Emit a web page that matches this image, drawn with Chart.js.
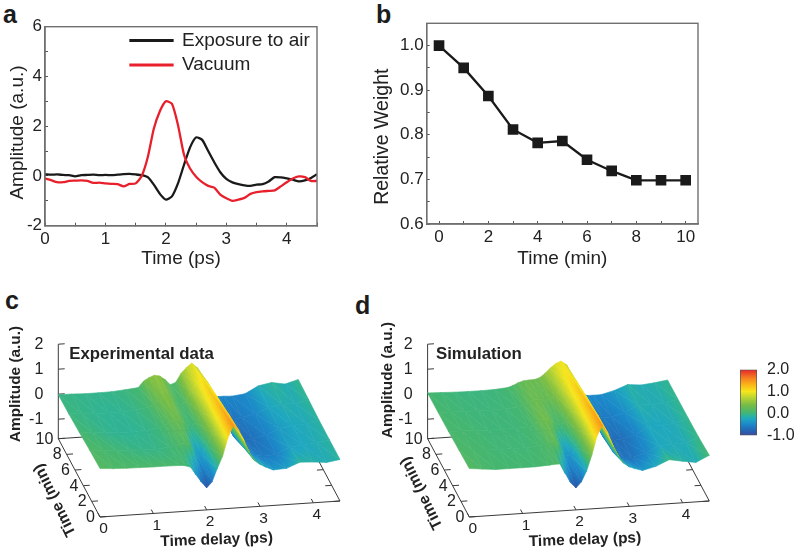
<!DOCTYPE html>
<html>
<head>
<meta charset="utf-8">
<title>Amplitude and weight</title>
<script src="https://cdn.jsdelivr.net/npm/chart.js@4"></script>
<style>
  body { margin: 0; background: #fff; width: 797px; height: 553px; overflow: hidden; position: relative; font-family: "Liberation Sans", sans-serif; }
  canvas { position: absolute; }
  .letter { position: absolute; font-weight: bold; font-size: 25px; line-height: 25px; color: #1c1c1c; }
</style>
</head>
<body>
<div class="letter" style="left:3px;top:2px">a</div>
<div class="letter" style="left:376px;top:2px">b</div>
<div class="letter" style="left:5px;top:288px">c</div>
<div class="letter" style="left:355px;top:293px">d</div>
<canvas id="panelA" width="350" height="270" style="left:0;top:0"></canvas>
<canvas id="panelB" width="350" height="270" style="left:360px;top:0"></canvas>
<canvas id="panelC" width="350" height="263" style="left:0;top:290px"></canvas>
<canvas id="panelD" width="375" height="263" style="left:350px;top:290px"></canvas>
<canvas id="colorBar" width="72" height="105" style="left:725px;top:350px"></canvas>
<script>
// panel a
const aTimes = [0,0.1,0.2,0.3,0.4,0.5,0.6,0.7,0.8,0.9,1,1.1,1.2,1.3,1.4,1.5,1.6,1.7,1.8,1.9,2,2.1,2.2,2.3,2.4,2.5,2.6,2.7,2.8,2.9,3,3.1,3.2,3.3,3.4,3.5,3.6,3.7,3.8,3.9,4,4.1,4.2,4.3,4.4,4.5];
const airValues = [0.07,0.05,0.06,0.04,0.03,-0.02,0.03,0.04,0.05,0.03,0.04,0.03,0.05,0.07,0.08,0.06,0.03,-0.05,-0.35,-0.72,-0.95,-0.82,-0.3,0.45,1.15,1.55,1.45,1.0,0.55,0.15,-0.12,-0.26,-0.33,-0.38,-0.4,-0.35,-0.33,-0.22,-0.05,-0.06,-0.1,-0.15,-0.22,-0.18,-0.08,0.07];
const vacuumValues = [-0.1,-0.17,-0.25,-0.25,-0.2,-0.19,-0.18,-0.2,-0.28,-0.27,-0.3,-0.32,-0.33,-0.42,-0.32,-0.3,0,0.75,1.9,2.6,3.0,2.9,2.05,0.85,0.3,-0.03,-0.25,-0.4,-0.47,-0.75,-0.9,-1.0,-0.95,-0.88,-0.72,-0.65,-0.62,-0.6,-0.58,-0.42,-0.25,-0.1,-0.02,-0.05,-0.2,-0.2];
const aXTicks = [0,0.5,1,1.5,2,2.5,3,3.5,4,4.5];
const aXLabels = [0,1,2,3,4];
const aYTicks = [-2,-1,0,1,2,3,4,5,6];
const aYLabels = [-2,0,2,4,6];

// panel b
const bMinutes = [0,1,2,3,4,5,6,7,8,9,10];
const bWeights = [1.0,0.95,0.887,0.812,0.782,0.786,0.744,0.719,0.698,0.698,0.698];
const bXTicks = [0,1,2,3,4,5,6,7,8,9,10];
const bXLabels = [0,2,4,6,8,10];
const bYTicks = [0.6,0.65,0.7,0.75,0.8,0.85,0.9,0.95,1.0];
const bYLabels = [0.6,0.7,0.8,0.9,1.0];

// panels c and d, amplitude per row of time (min) and column of delay (ps)
const surfaceDelays = [0,0.25,0.5,0.75,1,1.25,1.5,1.6,1.7,1.8,1.9,2,2.1,2.2,2.3,2.4,2.5,2.6,2.7,2.8,2.9,3,3.1,3.25,3.5,3.75,4,4.25,4.5];
const surfaceTimes = [0,2.5,5,7.5,10];
const expRow0 = [0.16,0.12,0.1,0.09,0.08,0.08,0.07,0.04,-0.03,-0.35,-0.65,-0.9,-0.68,-0.15,0.33,1.05,1.52,1.32,0.9,0.42,0.06,-0.1,-0.22,-0.36,-0.33,-0.12,-0.15,-0.2,-0.12];
const expRow1 = [0.12,0.07,0.03,0,-0.03,-0.03,0.02,0.06,0.12,0.15,0.05,-0.32,-0.35,-0.05,0.45,1.0,1.36,1.2,0.72,0.2,-0.22,-0.45,-0.52,-0.6,-0.55,-0.3,-0.25,-0.2,-0.12];
const expRow2 = [0.05,0,-0.05,-0.08,-0.08,-0.05,0.02,0.1,0.2,0.3,0.28,0.1,0,0.12,0.5,0.95,1.2,1.05,0.5,-0.1,-0.55,-0.72,-0.72,-0.68,-0.55,-0.35,-0.25,-0.22,-0.12];
const expRow3 = [0,-0.03,-0.06,-0.08,-0.07,-0.03,0.05,0.18,0.32,0.42,0.38,0.18,0.05,0.2,0.6,0.9,1.05,0.9,0.4,-0.15,-0.5,-0.65,-0.65,-0.6,-0.5,-0.28,-0.18,-0.2,-0.08];
const expRow4 = [-0.02,-0.03,-0.05,-0.05,-0.04,0,0.05,0.3,0.42,0.5,0.46,0.3,0.08,0.16,0.5,0.72,0.89,0.7,0.3,-0.2,-0.5,-0.52,-0.52,-0.54,-0.48,-0.2,-0.1,-0.2,-0.05];
const simRow0 = [0.16,0.1,0.05,0.05,0.05,0.05,0.08,0.1,0.1,-0.3,-0.68,-0.9,-0.68,-0.25,0.38,1.15,1.52,1.2,0.66,0.25,-0.05,-0.2,-0.28,-0.38,-0.25,-0.02,-0.12,-0.2,0.05];
const simRow1 = [0.12,0.08,0.05,0.03,0.03,0.03,0.06,0.1,0.2,0.25,0,-0.4,-0.4,-0.1,0.45,1.05,1.38,1.15,0.6,0.05,-0.4,-0.6,-0.65,-0.65,-0.5,-0.25,-0.22,-0.2,-0.02];
const simRow2 = [0.08,0.06,0.04,0.02,0.02,0.02,0.05,0.1,0.25,0.35,0.3,0.12,0.05,0.2,0.6,1.0,1.22,1.05,0.5,-0.1,-0.55,-0.7,-0.72,-0.7,-0.55,-0.25,-0.25,-0.2,-0.05];
const simRow3 = [0.06,0.04,0.02,0.01,0.01,0.02,0.05,0.12,0.22,0.3,0.3,0.25,0.28,0.4,0.7,0.98,1.08,0.92,0.4,-0.18,-0.52,-0.6,-0.6,-0.58,-0.45,-0.18,-0.2,-0.18,-0.06];
const simRow4 = [0.05,0.03,0.01,0,0,0.01,0.05,0.12,0.22,0.28,0.3,0.3,0.36,0.52,0.72,0.88,0.97,0.82,0.4,-0.1,-0.42,-0.48,-0.48,-0.48,-0.35,-0.15,-0.2,-0.15,-0.07];
const delayTicks = [0,1,2,3,4];
const timeTicks = [0,2,4,6,8,10];
const ampTicks = [-1,0,1,2];

// colour bar
const barRange = [-1,2];
const barTicks = [-1,0,1,2];

const TEXT = '#222';
const AXIS = '#707070';
const FONT = '"Liberation Sans", sans-serif';

// jet-like map
const colorStops = [
  [-1, [59,74,158]], [-0.75, [35,104,181]], [-0.5, [27,135,201]], [-0.25, [31,167,192]],
  [-0.1, [44,179,154]], [0.05, [69,182,112]], [0.4, [121,189,69]], [0.7, [180,210,52]],
  [1, [246,230,28]], [1.3, [251,183,23]], [1.6, [245,130,32]], [2, [229,38,43]]
];
function ampColor(z) {
  if (z <= colorStops[0][0]) return 'rgb(' + colorStops[0][1] + ')';
  for (let i = 1; i < colorStops.length; i++) {
    if (z <= colorStops[i][0]) {
      const [z0, c0] = colorStops[i - 1];
      const [z1, c1] = colorStops[i];
      const f = (z - z0) / (z1 - z0);
      return 'rgb(' + c0.map((c, k) => Math.round(c + (c1[k] - c) * f)) + ')';
    }
  }
  return 'rgb(' + colorStops[colorStops.length - 1][1] + ')';
}

// inward ticks and a fixed plot box for the two flat panels
function flatAxis(title, ticks, labels, size) {
  return {
    type: 'linear',
    title: { display: !!title, text: title, color: TEXT, font: { family: FONT, size: 19 }, padding: { top: 0, bottom: 0 } },
    border: { color: AXIS, width: 1.4 },
    grid: { drawOnChartArea: false, tickLength: -3, tickColor: '#555', tickWidth: 1 },
    ticks: {
      color: TEXT, font: { family: FONT, size: 17 }, padding: 6, autoSkip: false, maxRotation: 0,
      callback: v => labels.includes(v) ? (labels[0] === 0.6 ? v.toFixed(1) : String(v)) : ''
    },
    afterBuildTicks: scale => { scale.ticks = ticks.map(value => ({ value })); },
    afterFit: scale => { if (scale.isHorizontal()) scale.height = size; else scale.width = size; }
  };
}

const framePlugin = {
  id: 'frame',
  afterDraw(chart) {
    const { ctx, chartArea: a } = chart;
    ctx.save();
    ctx.strokeStyle = AXIS;
    ctx.lineWidth = 1.4;
    ctx.strokeRect(a.left, a.top, a.right - a.left, a.bottom - a.top);
    ctx.restore();
  }
};

const legendPlugin = {
  id: 'placeLegend',
  afterLayout(chart) {
    const l = chart.legend;
    l.left = 125; l.right = 340; l.top = 25.5; l.bottom = 90;
  }
};

// text the scales cannot place: off-centre axis titles and the labels of the 3D box
const labelPlugin = {
  id: 'boxLabels',
  afterDraw(chart, args, opts) {
    const { ctx } = chart;
    opts.items.forEach(it => {
      ctx.save();
      ctx.translate(it.x, it.y);
      if (it.rotate) ctx.rotate(it.rotate * Math.PI / 180);
      ctx.fillStyle = TEXT;
      ctx.font = (it.bold ? 'bold ' : '') + it.size + 'px ' + FONT;
      ctx.textAlign = it.align || 'center';
      ctx.textBaseline = 'middle';
      ctx.fillText(it.text, 0, 0);
      ctx.restore();
    });
  }
};

new Chart(document.getElementById('panelA'), {
  type: 'line',
  data: {
    datasets: [
      { label: 'Exposure to air', data: aTimes.map((x, i) => ({ x, y: airValues[i] })), borderColor: '#1a1a1a', backgroundColor: '#1a1a1a', borderWidth: 2.3, pointRadius: 0, tension: 0.2, order: 1 },
      { label: 'Vacuum', data: aTimes.map((x, i) => ({ x, y: vacuumValues[i] })), borderColor: '#e8202c', backgroundColor: '#e8202c', borderWidth: 2.3, pointRadius: 0, tension: 0.2, order: 0 }
    ]
  },
  options: {
    responsive: false, animation: false,
    layout: { padding: { left: 7, top: 26.7, right: 33 } },
    plugins: {
      tooltip: { enabled: false },
      boxLabels: { items: [{ text: 'Amplitude (a.u.)', x: 18, y: 132.5, size: 19, rotate: -90 }] },
      legend: {
        position: 'chartArea', align: 'start',
        labels: {
          boxWidth: 42, boxHeight: 0.5, padding: 5.5, color: TEXT, font: { family: FONT, size: 19 },
          sort: (a, b) => a.datasetIndex - b.datasetIndex
        }
      }
    },
    scales: {
      x: Object.assign(flatAxis('Time (ps)', aXTicks, aXLabels, 44.3), { min: 0, max: 4.5 }),
      y: Object.assign(flatAxis('', aYTicks, aYLabels, 38), { min: -2, max: 6 })
    }
  },
  plugins: [framePlugin, legendPlugin, labelPlugin]
});

new Chart(document.getElementById('panelB'), {
  type: 'line',
  data: {
    datasets: [
      { label: 'Relative Weight', data: bMinutes.map((x, i) => ({ x, y: bWeights[i] })), borderColor: '#1a1a1a', backgroundColor: '#1a1a1a', borderWidth: 2.3, pointStyle: 'rect', pointRadius: 5.9 }
    ]
  },
  options: {
    responsive: false, animation: false,
    layout: { padding: { left: 12, top: 23.3, right: 12 } },
    plugins: {
      legend: { display: false }, tooltip: { enabled: false },
      boxLabels: { items: [{ text: 'Relative Weight', x: 22.7, y: 136.7, size: 19.5, rotate: -90 }] }
    },
    scales: {
      x: Object.assign(flatAxis('Time (min)', bXTicks, bXLabels, 46), { min: -0.5, max: 10.5 }),
      y: Object.assign(flatAxis('', bYTicks, bYLabels, 54.7), { min: 0.6, max: 1.05 })
    }
  },
  plugins: [framePlugin, labelPlugin]
});

// oblique view of the box: pixels of the panel per ps, per min and per amplitude unit
const Z_MIN = -1.78;
function projector(ox, oy) {
  return (d, t, z) => ({
    x: ox + 53.33 * d - 4.17 * t,
    y: oy - 3.556 * d - 7.83 * t - 25 * (z - Z_MIN)
  });
}

function axisLine(points) {
  return { type: 'line', data: points, borderColor: '#3a3a3a', borderWidth: 1, pointRadius: 0, fill: false, tension: 0 };
}

// one closed triangle of the surface; amplitude is linear across it on screen,
// so a canvas gradient along its direction shades it exactly
function surfaceTriangle(p, corners) {
  const pts = corners.map(c => p(c.d, c.t, c.z));
  const zs = corners.map(c => c.z);
  const mean = (zs[0] + zs[1] + zs[2]) / 3;
  const shade = ctx => {
    const chart = ctx.chart;
    if (!chart.chartArea) return ampColor(mean);
    const sx = chart.scales.x, sy = chart.scales.y;
    const px = pts.map(q => sx.getPixelForValue(q.x));
    const py = pts.map(q => sy.getPixelForValue(q.y));
    const e1x = px[1] - px[0], e1y = py[1] - py[0], e2x = px[2] - px[0], e2y = py[2] - py[0];
    const dz1 = zs[1] - zs[0], dz2 = zs[2] - zs[0];
    const det = e1x * e2y - e1y * e2x;
    if (Math.abs(det) < 0.5) return ampColor(mean);
    const gx = (dz1 * e2y - dz2 * e1y) / det;
    const gy = (e1x * dz2 - e2x * dz1) / det;
    const len2 = gx * gx + gy * gy;
    const lo = Math.min(...zs), hi = Math.max(...zs);
    if (len2 < 1e-9 || hi - lo < 0.005) return ampColor(mean);
    const k = zs.indexOf(lo);
    const reach = (hi - lo) / len2;
    const g = chart.ctx.createLinearGradient(px[k], py[k], px[k] + gx * reach, py[k] + gy * reach);
    for (let s = 0; s <= 6; s++) g.addColorStop(s / 6, ampColor(lo + (hi - lo) * s / 6));
    return g;
  };
  return {
    type: 'line',
    data: [pts[0], pts[1], pts[2], pts[0]],
    fill: 'shape', backgroundColor: shade, borderColor: shade, borderWidth: 0.6, pointRadius: 0, tension: 0
  };
}

function surfaceChart(id, width, ox, rows, title, titleX, ampLabel, delayLabel, timeLabel) {
  const p = projector(ox, 227);
  const list = [];
  // axes first so the surface paints over them
  list.push(axisLine([p(0, 0, Z_MIN), p(4.5, 0, Z_MIN)]));
  list.push(axisLine([p(0, 0, Z_MIN), p(0, 10, Z_MIN)]));
  list.push(axisLine([p(4.5, 0, Z_MIN), p(4.5, 10, Z_MIN)]));
  list.push(axisLine([p(0, 10, Z_MIN), p(4.5, 10, Z_MIN)]));
  list.push(axisLine([p(0, 10, Z_MIN), p(0, 10, 2)]));
  delayTicks.forEach(d => list.push(axisLine([p(d, 0, Z_MIN), p(d, 0.5, Z_MIN)])));
  timeTicks.forEach(t => {
    list.push(axisLine([p(0, t, Z_MIN), p(0.12, t, Z_MIN)]));
    list.push(axisLine([p(4.5, t, Z_MIN), p(4.38, t, Z_MIN)]));
  });
  ampTicks.forEach(z => list.push(axisLine([p(0, 10, z), p(0.12, 10, z)])));
  // back rows first, right to left, because the view comes from the front left
  const corner = (i, j) => ({ d: surfaceDelays[j], t: surfaceTimes[i], z: rows[i][j] });
  for (let i = surfaceTimes.length - 2; i >= 0; i--) {
    for (let j = surfaceDelays.length - 2; j >= 0; j--) {
      list.push(surfaceTriangle(p, [corner(i + 1, j + 1), corner(i + 1, j), corner(i, j + 1)]));
      list.push(surfaceTriangle(p, [corner(i, j + 1), corner(i + 1, j), corner(i, j)]));
    }
  }

  const items = [
    { text: title, x: titleX, y: 64, bold: true, size: 16.8, align: 'left' },
    { text: 'Amplitude (a.u.)', x: ampLabel[0], y: ampLabel[1], bold: true, size: 15.4, rotate: -90 },
    { text: 'Time delay (ps)', x: delayLabel[0], y: delayLabel[1], bold: true, size: 15.5, rotate: -2 },
    { text: 'Time (min)', x: timeLabel[0], y: timeLabel[1], bold: true, size: 15.6, rotate: -116 }
  ];
  delayTicks.forEach(d => {
    const q = p(d, 0, Z_MIN);
    items.push({ text: String(d), x: q.x + 3.5, y: q.y + 12, size: 15.5 });
  });
  timeTicks.forEach(t => {
    const q = p(0, t, Z_MIN);
    items.push({ text: String(t), x: q.x - 5, y: q.y + 0.5, size: 16, align: 'right' });
  });
  ampTicks.forEach(z => {
    const q = p(0, 10, z);
    items.push({ text: String(z), x: q.x - 15, y: q.y, size: 16, align: 'right' });
  });

  new Chart(document.getElementById(id), {
    type: 'line',
    data: { datasets: list.reverse() },
    options: {
      responsive: false, animation: false,
      layout: { padding: 0 },
      plugins: { legend: { display: false }, tooltip: { enabled: false }, boxLabels: { items } },
      scales: {
        x: { type: 'linear', display: false, min: 0, max: width },
        y: { type: 'linear', display: false, min: 0, max: 263, reverse: true }
      }
    },
    plugins: [labelPlugin]
  });
}

surfaceChart('panelC', 350, 100, [expRow0, expRow1, expRow2, expRow3, expRow4], 'Experimental data', 69.3, [15.7, 94], [216.7, 250], [55, 210]);
surfaceChart('panelD', 375, 119.3, [simRow0, simRow1, simRow2, simRow3, simRow4], 'Simulation', 86, [37.7, 90], [235, 250], [71.7, 203]);

new Chart(document.getElementById('colorBar'), {
  type: 'bar',
  data: {
    labels: ['Amplitude'],
    datasets: [{
      data: [barRange],
      backgroundColor: ctx => {
        const chart = ctx.chart;
        if (!chart.chartArea) return '#45b670';
        const sy = chart.scales.y;
        const g = chart.ctx.createLinearGradient(0, sy.getPixelForValue(barRange[0]), 0, sy.getPixelForValue(barRange[1]));
        colorStops.forEach(s => g.addColorStop((s[0] - barRange[0]) / (barRange[1] - barRange[0]), ampColor(s[0])));
        return g;
      },
      borderColor: '#555', borderWidth: 1, borderSkipped: false,
      barPercentage: 1, categoryPercentage: 1
    }]
  },
  options: {
    responsive: false, animation: false,
    layout: { padding: { left: 15, top: 12.3, bottom: 13.3 } },
    plugins: { legend: { display: false }, tooltip: { enabled: false } },
    scales: {
      x: { display: false },
      y: {
        position: 'right', min: barRange[0], max: barRange[1],
        border: { display: false },
        grid: { display: false, drawTicks: false },
        ticks: { color: TEXT, font: { family: FONT, size: 16 }, padding: 10, callback: v => v.toFixed(1) },
        afterBuildTicks: scale => { scale.ticks = barTicks.map(value => ({ value })); },
        afterFit: scale => { scale.width = 40; }
      }
    }
  }
});
</script>
</body>
</html>
